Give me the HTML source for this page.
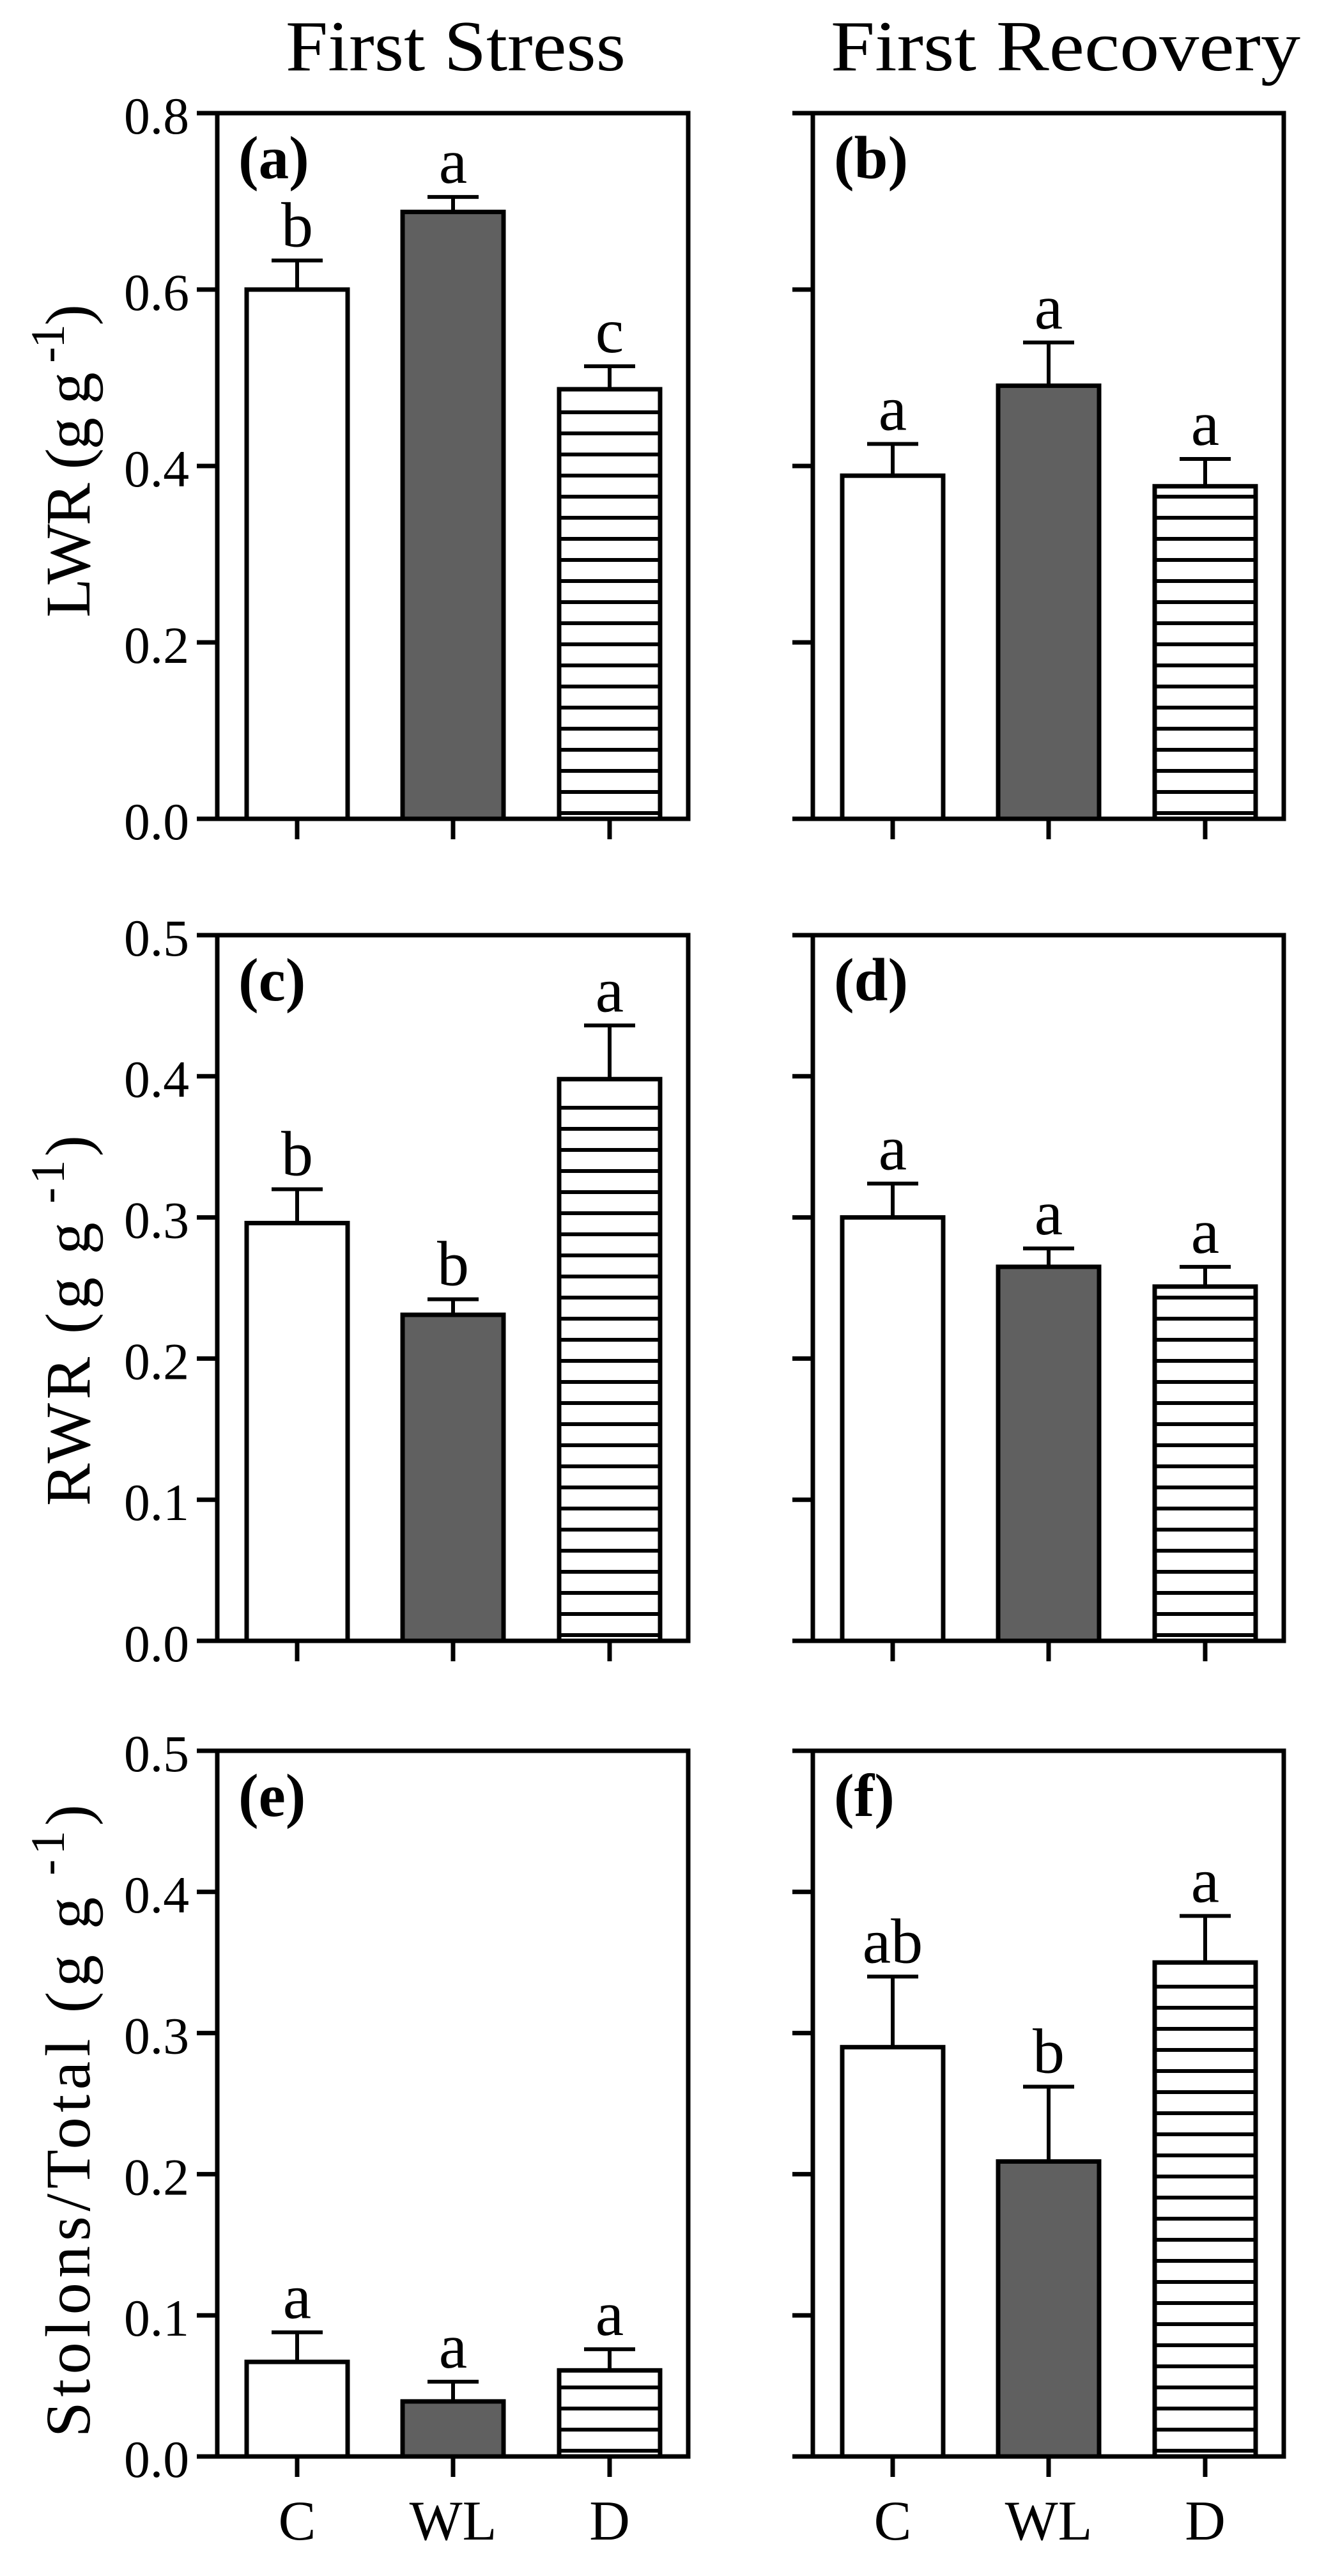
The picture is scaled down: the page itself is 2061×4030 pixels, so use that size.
<!DOCTYPE html>
<html><head><meta charset="utf-8">
<style>
html,body{margin:0;padding:0;background:#fff;}
svg{display:block;}
text{font-family:"Liberation Serif",serif;fill:#000;}
</style></head>
<body>
<svg id="chart" width="2061" height="4030" viewBox="0 0 2061 4030" xmlns="http://www.w3.org/2000/svg">
<text x="713" y="110" font-size="112" text-anchor="middle" textLength="532" lengthAdjust="spacingAndGlyphs">First Stress</text>
<text x="1300" y="110" font-size="112" textLength="735" lengthAdjust="spacingAndGlyphs">First Recovery</text>
<g id="plots"></g>
</svg>
<script>
const categories = ["C", "WL", "D"];
const panelLabels = ["(a)", "(b)", "(c)", "(d)", "(e)", "(f)"];
const rowMax = [0.8, 0.5, 0.5];
const rowTicks = [["0.0","0.2","0.4","0.6","0.8"], ["0.0","0.1","0.2","0.3","0.4","0.5"], ["0.0","0.1","0.2","0.3","0.4","0.5"]];
const rowTitles = ["LWR", "RWR", "Stolons/Total"];
const meansA = [0.600, 0.688, 0.487];
const errA = [0.033, 0.017, 0.026];
const lettersA = ["b", "a", "c"];
const meansB = [0.389, 0.491, 0.377];
const errB = [0.036, 0.049, 0.031];
const lettersB = ["a", "a", "a"];
const meansC = [0.296, 0.231, 0.398];
const errC = [0.024, 0.011, 0.038];
const lettersC = ["b", "b", "a"];
const meansD = [0.300, 0.265, 0.251];
const errD = [0.024, 0.013, 0.014];
const lettersD = ["a", "a", "a"];
const meansE = [0.067, 0.039, 0.061];
const errE = [0.021, 0.014, 0.015];
const lettersE = ["a", "a", "a"];
const meansF = [0.290, 0.209, 0.350];
const errF = [0.050, 0.053, 0.033];
const lettersF = ["ab", "b", "a"];

const allMeans = [meansA, meansB, meansC, meansD, meansE, meansF];
const allErr = [errA, errB, errC, errD, errE, errF];
const allLetters = [lettersA, lettersB, lettersC, lettersD, lettersE, lettersF];

const NS = "http://www.w3.org/2000/svg";
const root = document.getElementById("plots");
const colX = [340, 1272];
const W = 737;
const rowTop = [177, 1463, 2739];
const H = 1104;
const barOff = [125, 369, 614];
const barW = 158;
const fills = ["#ffffff", "#606060", "#ffffff"];
const titleCenter = [721, 2066, 3318];
const titleLen = [490, 580, 990];

function mk(tag, attrs, parent) {
  const e = document.createElementNS(NS, tag);
  for (const k in attrs) e.setAttribute(k, attrs[k]);
  (parent || root).appendChild(e);
  return e;
}

for (let r = 0; r < 3; r++) {
  const top = rowTop[r], bot = top + H, max = rowMax[r];
  const y = v => bot - v / max * H;
  // y axis title
  const tx = 140, ty = titleCenter[r];
  const t = mk("text", {x: tx, y: ty, "font-size": 100, "text-anchor": "middle", textLength: titleLen[r], lengthAdjust: "spacing", transform: `rotate(-90 ${tx} ${ty})`});
  
  
  t.textContent = rowTitles[r] + " (g g";
  const sup = mk("tspan", {"font-size": 75, dy: -40}, t);
  sup.textContent = " -1";
  const cl = mk("tspan", {"font-size": 100, dy: 40}, t);
  cl.textContent = ")";

  for (let c = 0; c < 2; c++) {
    const idx = r * 2 + c;
    const x0 = colX[c];
    const g = mk("g", {});
    
    
    const fr = mk("path", {d: `M${x0} ${top} H${x0 + W} V${bot} H${x0} Z`, fill: "none", stroke: "#000", "stroke-width": 7}, g);
    
    
    rowTicks[r].forEach(lbl => {
      const yy = y(parseFloat(lbl));
      const tk = mk("line", {x1: x0 - 32, x2: x0, y1: yy, y2: yy, stroke: "#000", "stroke-width": 7}, g);
      
      
      if (c === 0) {
        const tl = mk("text", {x: 296, y: yy + 32, "font-size": 82, "text-anchor": "end", textLength: 102, lengthAdjust: "spacingAndGlyphs"}, g);
        
        
        tl.textContent = lbl;
      }
    });
    const pl = mk("text", {x: x0 + 33, y: top + 102, "font-size": 95, "font-weight": "bold"}, g);
    
    
    pl.textContent = panelLabels[idx];

    const means = allMeans[idx], errs = allErr[idx], lets = allLetters[idx];
    categories.forEach((cat, i) => {
      const cx = x0 + barOff[i];
      const bx = cx - barW / 2;
      const by = y(means[i]);
      const xt = mk("line", {x1: cx, x2: cx, y1: bot, y2: bot + 32, stroke: "#000", "stroke-width": 7}, g);
      
      
      const ey = y(means[i] + errs[i]);
      const eb = mk("path", {d: `M${cx} ${by} V${ey} M${cx - 40} ${ey} H${cx + 40}`, fill: "none", stroke: "#000", "stroke-width": 6}, g);
      
      
      const bar = mk("rect", {x: bx, y: by, width: barW, height: bot - by, fill: fills[i], stroke: "#000", "stroke-width": 7}, g);
      
      
      if (i === 2) {
        for (let hy = bot - 9; hy > by + 12; hy -= 33) {
          const hl = mk("line", {x1: bx, x2: bx + barW, y1: hy, y2: hy, stroke: "#000", "stroke-width": 6}, g);
          
          
        }
      }
      const lt = mk("text", {x: cx, y: ey - 22, "font-size": 100, "text-anchor": "middle"}, g);
      
      
      lt.textContent = lets[i];
      if (r === 2) {
        const cl2 = mk("text", {x: cx, y: bot + 130, "font-size": 88, "text-anchor": "middle"}, g);
        
        
        cl2.textContent = cat;
      }
    });
  }
}
</script>
</body></html>
